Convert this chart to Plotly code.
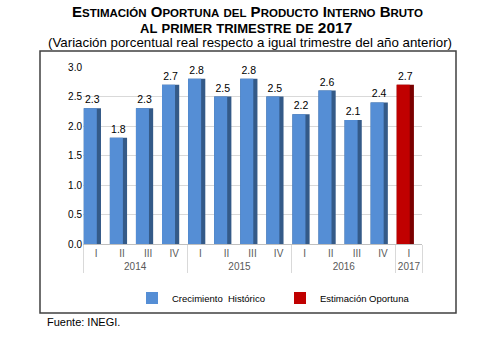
import plotly.graph_objects as go

years = ["2014"] * 4 + ["2015"] * 4 + ["2016"] * 4
quarters = ["I", "II", "III", "IV"] * 3
hist_values = [2.3, 1.8, 2.3, 2.7, 2.8, 2.5, 2.8, 2.5, 2.2, 2.6, 2.1, 2.4]
est_years = ["2017"]
est_quarters = ["I"]
est_values = [2.7]
y_ticks = [0.0, 0.5, 1.0, 1.5, 2.0, 2.5, 3.0]

FONT = "Liberation Sans, Arial, sans-serif"
BLUE = "#558ED5"
BLUE_DARK = "#345A88"
RED = "#C00000"
RED_DARK = "#7A0000"

fig = go.Figure()
W_FULL, W_FRONT, OFF = 0.66, 0.50, -0.47

# full bar (dark side) with labels
fig.add_trace(go.Bar(x=[years, quarters], y=hist_values, width=W_FULL, offset=OFF,
                     marker=dict(color=BLUE_DARK, line=dict(width=0)),
                     text=[f"{v:.1f}" for v in hist_values], textposition="outside",
                     textfont=dict(family=FONT, size=10.5, color="#000000"),
                     cliponaxis=False, showlegend=False, hoverinfo="skip"))
fig.add_trace(go.Bar(x=[est_years, est_quarters], y=est_values, width=W_FULL, offset=OFF,
                     marker=dict(color=RED_DARK, line=dict(width=0)),
                     text=[f"{v:.1f}" for v in est_values], textposition="outside",
                     textfont=dict(family=FONT, size=10.5, color="#000000"),
                     cliponaxis=False, showlegend=False, hoverinfo="skip"))
# front faces
fig.add_trace(go.Bar(x=[years, quarters], y=hist_values, width=W_FRONT, offset=OFF,
                     marker=dict(color=BLUE, line=dict(width=0)),
                     name="Crecimiento  Histórico"))
fig.add_trace(go.Bar(x=[est_years, est_quarters], y=est_values, width=W_FRONT, offset=OFF,
                     marker=dict(color=RED, line=dict(width=0)),
                     name="Estimación Oportuna"))

L, R, T, B = 83, 422, 67, 244
pw, ph = R - L, B - T
def px(x): return (x - L) / pw
def py(y): return (B - y) / ph

def smallcaps(words, big=15, small=11.5):
    out = []
    for w in words:
        if w.isdigit():
            out.append(f"<span style='font-size:{big}px'>{w}</span>")
        elif w.islower():
            out.append(f"<span style='font-size:{small}px'>{w.upper()}</span>")
        else:
            out.append(f"<span style='font-size:{big}px'>{w[0]}</span><span style='font-size:{small}px'>{w[1:].upper()}</span>")
    return " ".join(out)

line1 = smallcaps(["Estimación", "Oportuna", "del", "Producto", "Interno", "Bruto"])
line2 = smallcaps(["al", "primer", "trimestre", "de", "2017"], big=15.5, small=13)

annotations = [
    dict(text="<b>" + line1 + "</b>", x=px(247), y=py(11), xref="paper", yref="paper",
         showarrow=False, font=dict(family=FONT, size=15, color="#000000"), xanchor="center", yanchor="middle"),
    dict(text="<b>" + line2 + "</b>", x=px(246), y=py(27), xref="paper", yref="paper",
         showarrow=False, font=dict(family=FONT, size=15, color="#000000"), xanchor="center", yanchor="middle"),
    dict(text="(Variación porcentual real respecto a igual trimestre del año anterior)", x=px(250), y=py(42),
         xref="paper", yref="paper", showarrow=False,
         font=dict(family=FONT, size=13.3, color="#000000"), xanchor="center", yanchor="middle"),
    dict(text="Fuente: INEGI.", x=px(45), y=py(322), xref="paper", yref="paper", showarrow=False,
         font=dict(family=FONT, size=11, color="#000000"), xanchor="left", yanchor="middle"),
]

shapes = [
    dict(type="rect", xref="paper", yref="paper", x0=px(40), x1=px(456), y0=py(313), y1=py(51),
         line=dict(color="#404040", width=1.5), fillcolor="rgba(0,0,0,0)", layer="below"),
]

fig.update_layout(
    width=497, height=338,
    margin=dict(l=L, r=497 - R, t=T, b=338 - B),
    paper_bgcolor="white", plot_bgcolor="white",
    barmode="overlay",
    font=dict(family=FONT, size=10, color="#000000"),
    annotations=annotations, shapes=shapes,
    legend=dict(orientation="h", x=px(132), y=py(298), xanchor="left", yanchor="middle",
                font=dict(family=FONT, size=9.5, color="#000000"), entrywidth=103,
                itemwidth=30, bgcolor="rgba(0,0,0,0)"),
    xaxis=dict(type="multicategory", showline=True, linecolor="#BFBFBF", linewidth=1,
               tickfont=dict(family=FONT, size=10, color="#595959"),
               showdividers=True, dividercolor="#D9D9D9", dividerwidth=1,
               ticks="", showgrid=False),
    yaxis=dict(range=[0, 3.0], tickvals=y_ticks, ticktext=[f"{v:.1f}" for v in y_ticks],
               showgrid=True, gridcolor="#D9D9D9", gridwidth=1, zeroline=False,
               tickfont=dict(family=FONT, size=10, color="#000000"), ticks="", showline=False),
)

fig.write_html("out.html")
